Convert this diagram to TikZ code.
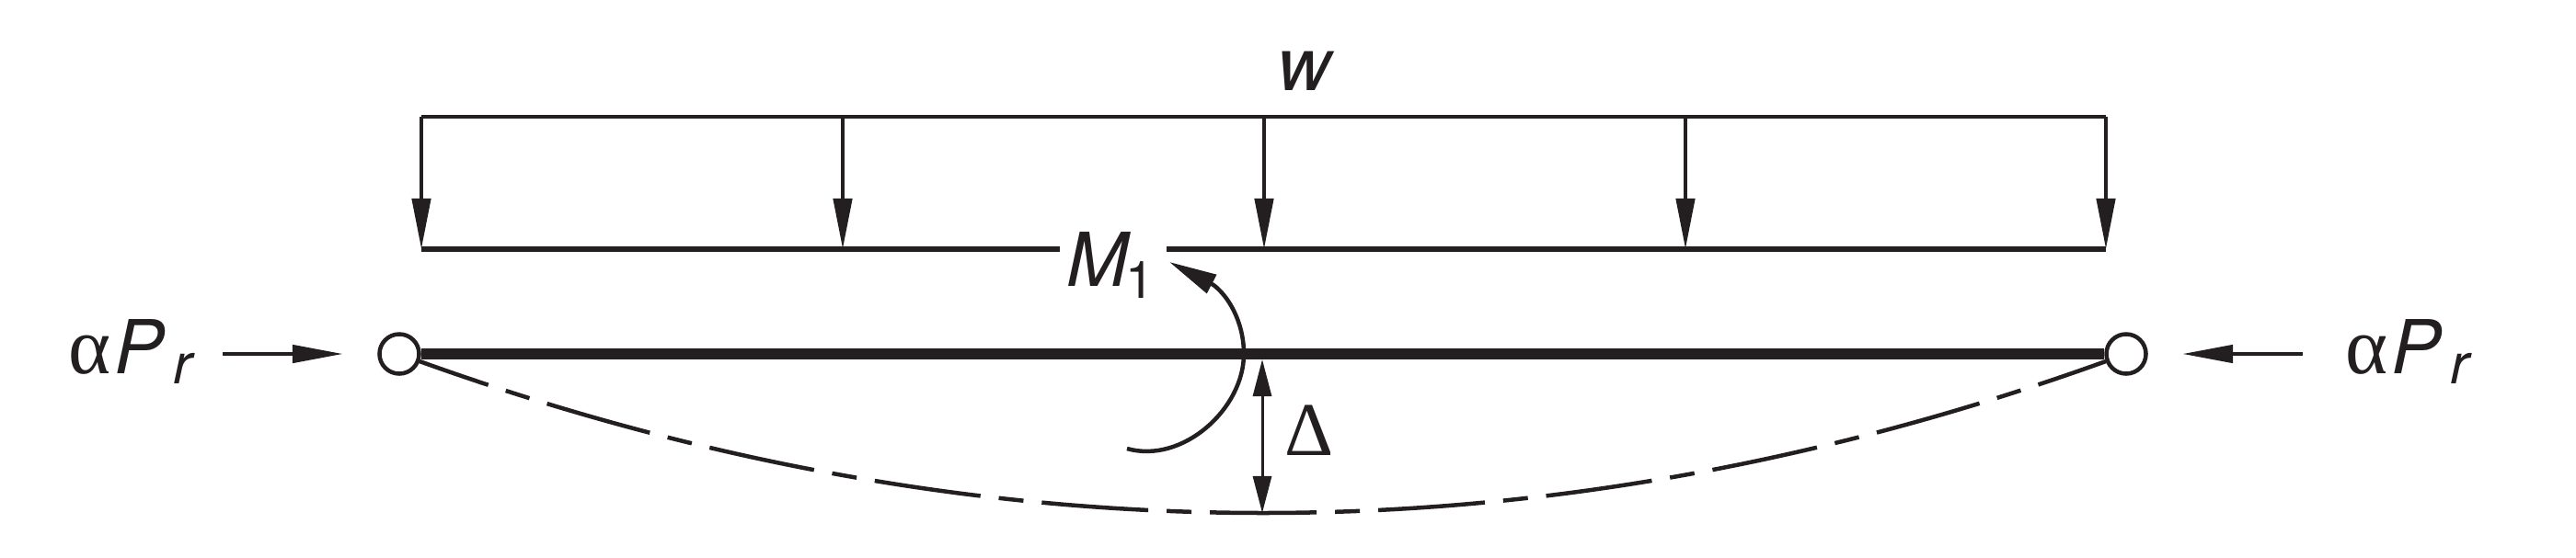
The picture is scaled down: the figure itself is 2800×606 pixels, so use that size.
\documentclass[tikz,border=0pt]{standalone}
\usepackage{fontspec}
\setmainfont{TeX Gyre Heros}
\newfontfamily\greekfont{Liberation Serif}
\usetikzlibrary{arrows.meta}
\definecolor{inkblack}{HTML}{231F20}
\tikzset{
    loadtip/.style={-{Triangle[length=5.5mm,width=2mm]}},
    axialtip/.style={-{Triangle[length=5.5mm,width=1.9mm]}},
    gaptip/.style={{Triangle[length=4mm,width=2mm]}-{Triangle[length=4mm,width=2mm]}},
    momenttip/.style={-{Triangle[length=5.2mm,width=2.2mm]}},
    hinge/.style={draw=inkblack, fill=white, circle, line width=0.45mm, inner sep=0pt, minimum size=4.3mm},
    labeltext/.style={inner sep=0pt, anchor=base west, text=inkblack, font=\fontsize{23}{26}\selectfont},
}
\newcommand{\subtext}[1]{{\fontsize{17.5}{20}\selectfont\raisebox{-1.1mm}{#1}}}
\begin{document}
\begin{tikzpicture}[x=0.01cm, y=-0.01cm, draw=inkblack]
    \useasboundingbox (0,0) rectangle (2800,606);

    % Carga repartida
    \node[labeltext] (loadw) at (1388,98) {\textit{w}};
    \foreach \i/\xx in {1/458, 2/916, 3/1374, 4/1832, 5/2289} {
        \coordinate (top\i) at (\xx,127);
        \coordinate (bot\i) at (\xx,271);
    }
    \coordinate (gapL) at (1152,271);
    \coordinate (gapR) at (1268,271);
    \draw[line width=0.32mm] (top1) -- (top5);
    \draw[line width=0.55mm] (bot1) -- (gapL);
    \draw[line width=0.55mm] (gapR) -- (bot5);
    \foreach \i in {1,...,5} {
        \draw[line width=0.45mm, loadtip] (top\i) -- (bot\i);
    }

    % Viga
    \node[hinge] (hingeL) at (434,385) {};
    \node[hinge] (hingeR) at (2311,385) {};
    \draw[line width=1.2mm] (hingeL) -- (hingeR);

    % Deformada
    \coordinate (curveL) at (456,393);
    \coordinate (curveR) at (2289,393);
    \draw[line width=0.45mm, dash pattern=on 1.16cm off 0.2cm on 0.27cm off 0.2cm, dash phase=0.37cm]
        (curveL) .. controls (1068,613) and (1678,613) .. (curveR);

    % Flecha
    \coordinate (gapTop) at (1372,391);
    \coordinate (gapBot) at (1372,558);
    \draw[line width=0.3mm, gaptip] (gapTop) -- (gapBot);
    \node[labeltext] (delta) at (1396,495) {\greekfont\fontsize{23.5}{26}\selectfont Δ};

    % Momento
    \coordinate (momStart) at (1225,488);
    \coordinate (momMid) at (1352,385);
    \coordinate (momBase) at (1319,310);
    \coordinate (momTip) at (1271,285);
    \draw[line width=0.45mm, momenttip] (momStart) .. controls (1285,505) and (1352,445) .. (momMid)
        .. controls (1352,350) and (1335,322) .. (momBase) -- (momTip);
    \node[labeltext, font=\fontsize{23}{26}\selectfont] (moment) at (1159,311) {\textit{M}\kern-0.6mm{\fontsize{16}{20}\selectfont\raisebox{-1.3mm}{1}}};

    % Cargas axiales
    \node[labeltext] (axialL) at (74,406) {{\greekfont\fontsize{25}{26}\selectfont α}\kern0.4mm\textit{P}\kern0.8mm\subtext{\textit{r}}};
    \node[labeltext] (axialR) at (2549,406) {{\greekfont\fontsize{25}{26}\selectfont α}\kern0.4mm\textit{P}\kern0.8mm\subtext{\textit{r}}};
    \coordinate (axialLa) at (242,385);
    \coordinate (axialLb) at (373,385);
    \coordinate (axialRa) at (2503,385);
    \coordinate (axialRb) at (2372,385);
    \draw[line width=0.45mm, axialtip] (axialLa) -- (axialLb);
    \draw[line width=0.45mm, axialtip] (axialRa) -- (axialRb);
\end{tikzpicture}
\end{document}
